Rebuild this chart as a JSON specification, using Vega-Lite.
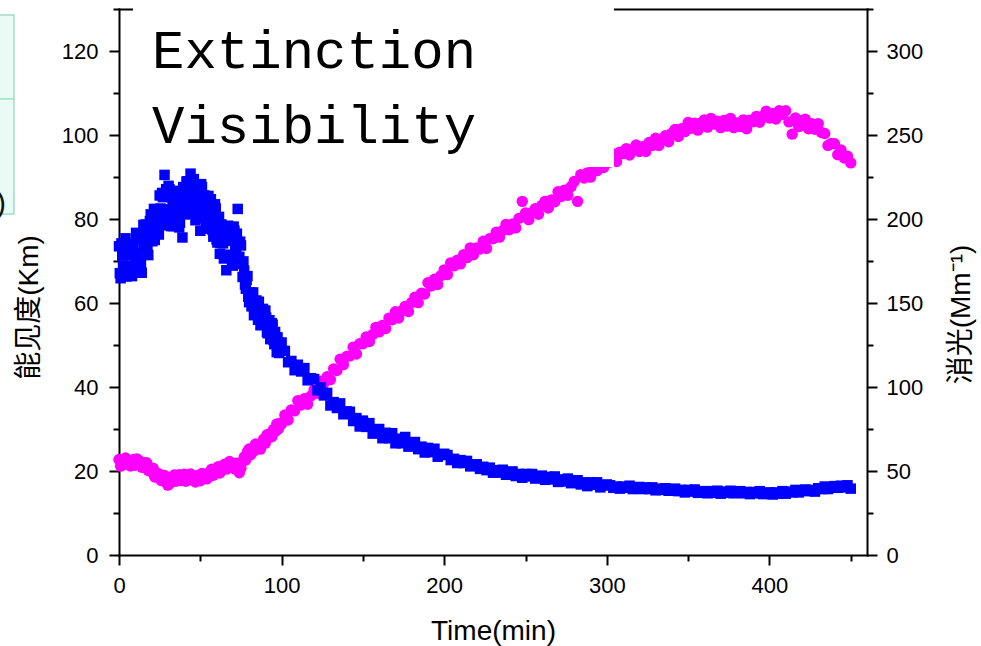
{
"$schema": "https://vega.github.io/schema/vega-lite/v6.json",
"width": 748, "height": 546,
"autosize": {"type": "none"},
"padding": {"left": 119, "top": 9, "right": 114, "bottom": 91},
"background": "white",
"config": {
  "view": {"stroke": null},
  "axis": {"domainColor": "#000", "domainWidth": 2, "domainCap": "square", "tickColor": "#000", "tickWidth": 2, "tickSize": 10,
    "labelFont": "Liberation Sans", "labelFontSize": 22, "labelColor": "#000", "labelFlush": false, "labelOverlap": false,
    "titleFont": "Liberation Sans, Noto Sans CJK SC", "titleFontSize": 28, "titleFontWeight": "normal", "titleColor": "#000", "grid": false}
},
"data": {"values": [
{"t":0,"v":73.5,"e":56.8},{"t":1,"v":65.9,"e":52.9},{"t":2,"v":71.3,"e":55.6},{"t":3,"v":67.9,"e":54.0},{"t":4,"v":75.4,"e":57.7},
{"t":5,"v":67.1,"e":54.7},{"t":6,"v":71.3,"e":56.5},{"t":7,"v":73.7,"e":53.0},{"t":8,"v":66.4,"e":55.6},{"t":9,"v":73.5,"e":56.8},
{"t":10,"v":70.8,"e":53.4},{"t":11,"v":76.2,"e":57.2},{"t":12,"v":69.6,"e":54.5},{"t":13,"v":75.2,"e":55.7},{"t":14,"v":67.2,"e":52.2},
{"t":15,"v":78.6,"e":54.9},{"t":16,"v":72.8,"e":52.0},{"t":17,"v":76.2,"e":54.9},{"t":18,"v":71.4,"e":50.3},{"t":19,"v":79.5,"e":51.8},
{"t":20,"v":75.8,"e":49.6},{"t":21,"v":80.5,"e":51.6},{"t":22,"v":75.0,"e":46.4},{"t":23,"v":80.9,"e":49.0},{"t":24,"v":80.0,"e":47.0},
{"t":25,"v":85.6,"e":48.1},{"t":26,"v":78.5,"e":44.3},{"t":27,"v":85.2,"e":45.8},{"t":28,"v":90.5,"e":47.3},{"t":29,"v":87.1,"e":43.4},
{"t":30,"v":81.8,"e":41.6},{"t":31,"v":87.1,"e":42.3},{"t":32,"v":78.3,"e":46.2},{"t":33,"v":83.2,"e":44.6},{"t":34,"v":85.5,"e":47.6},
{"t":35,"v":79.4,"e":43.9},{"t":36,"v":86.7,"e":46.5},{"t":37,"v":78.0,"e":47.8},{"t":38,"v":83.3,"e":44.3},{"t":39,"v":75.6,"e":47.2},
{"t":40,"v":86.1,"e":48.1},{"t":41,"v":83.6,"e":43.9},{"t":42,"v":89.0,"e":46.5},{"t":43,"v":81.9,"e":44.7},{"t":44,"v":90.8,"e":48.2},
{"t":45,"v":83.2,"e":45.1},{"t":46,"v":89.5,"e":47.0},{"t":47,"v":79.7,"e":43.4},{"t":48,"v":84.6,"e":46.1},{"t":49,"v":86.9,"e":47.5},
{"t":50,"v":77.2,"e":44.2},{"t":51,"v":87.6,"e":48.5},{"t":52,"v":81.8,"e":46.2},{"t":53,"v":84.8,"e":47.9},{"t":54,"v":77.7,"e":45.3},
{"t":55,"v":85.5,"e":48.9},{"t":56,"v":81.0,"e":46.9},{"t":57,"v":82.3,"e":51.0},{"t":58,"v":75.8,"e":47.5},{"t":59,"v":83.5,"e":50.1},
{"t":60,"v":75.1,"e":49.3},{"t":61,"v":77.7,"e":52.6},{"t":62,"v":71.7,"e":48.8},{"t":63,"v":78.7,"e":52.6},{"t":64,"v":74.2,"e":51.7},
{"t":65,"v":77.4,"e":54.0},{"t":66,"v":67.8,"e":51.1},{"t":67,"v":78.4,"e":53.4},{"t":68,"v":71.3,"e":55.7},{"t":69,"v":74.8,"e":52.5},
{"t":70,"v":68.9,"e":54.2},{"t":71,"v":77.2,"e":51.3},{"t":72,"v":72.1,"e":54.7},{"t":73,"v":82.4,"e":52.7},{"t":74,"v":71.0,"e":49.0},
{"t":75,"v":73.7,"e":51.7},{"t":76,"v":66.2,"e":55.6},{"t":77,"v":67.7,"e":58.3},{"t":78,"v":63.4,"e":56.6},{"t":79,"v":66.4,"e":61.5},
{"t":80,"v":60.2,"e":63.1},{"t":81,"v":61.9,"e":59.7},{"t":82,"v":62.4,"e":63.0},{"t":83,"v":57.1,"e":61.9},{"t":84,"v":60.4,"e":66.1},
{"t":85,"v":57.7,"e":63.6},{"t":86,"v":60.3,"e":66.0},{"t":87,"v":54.7,"e":63.0},{"t":88,"v":57.9,"e":66.7},{"t":89,"v":55.7,"e":69.0},
{"t":90,"v":58.2,"e":66.6},{"t":91,"v":53.1,"e":71.6},{"t":92,"v":55.1,"e":70.0},{"t":93,"v":51.4,"e":72.3},{"t":94,"v":55.2,"e":70.4},
{"t":95,"v":51.2,"e":74.7},{"t":96,"v":53.1,"e":73.5},{"t":97,"v":48.3,"e":78.0},{"t":98,"v":50.6,"e":75.0},{"t":99,"v":48.8,"e":78.3},
{"t":100,"v":50.6,"e":78.0},
{"t":0.5,"v":67.1},{"t":1.5,"v":74.2},{"t":2.5,"v":68.9},{"t":3.5,"v":72.5},{"t":4.5,"v":66.3},{"t":5.5,"v":71.6},{"t":6.5,"v":74.2},
{"t":7.5,"v":68.8},{"t":8.5,"v":72.8},{"t":9.5,"v":68.1},{"t":10.5,"v":76.7},{"t":11.5,"v":71.9},{"t":12.5,"v":75.5},{"t":13.5,"v":69.2},
{"t":14.5,"v":75.8},{"t":15.5,"v":73.5},{"t":16.5,"v":78.7},{"t":17.5,"v":72.8},{"t":18.5,"v":76.4},{"t":19.5,"v":81.1},{"t":20.5,"v":74.7},
{"t":21.5,"v":82.4},{"t":22.5,"v":77.7},{"t":23.5,"v":81.9},{"t":24.5,"v":76.3},{"t":25.5,"v":82.5},{"t":26.5,"v":86.2},{"t":27.5,"v":82.0},
{"t":28.5,"v":86.0},{"t":29.5,"v":80.2},{"t":30.5,"v":87.9},{"t":31.5,"v":82.3},{"t":32.5,"v":85.2},{"t":33.5,"v":78.3},{"t":34.5,"v":84.0},
{"t":35.5,"v":80.9},{"t":36.5,"v":85.2},{"t":37.5,"v":79.1},{"t":38.5,"v":82.8},{"t":39.5,"v":87.6},{"t":40.5,"v":81.1},{"t":41.5,"v":88.9},
{"t":42.5,"v":84.1},{"t":43.5,"v":87.9},{"t":44.5,"v":81.2},{"t":45.5,"v":86.0},{"t":46.5,"v":88.1},{"t":47.5,"v":82.1},{"t":48.5,"v":85.5},
{"t":49.5,"v":80.2},{"t":50.5,"v":88.3},{"t":51.5,"v":82.8},{"t":52.5,"v":85.6},{"t":53.5,"v":78.4},{"t":54.5,"v":84.0},{"t":55.5,"v":80.7},
{"t":56.5,"v":84.7},{"t":57.5,"v":77.4},{"t":58.5,"v":79.4},{"t":59.5,"v":82.5},{"t":60.5,"v":74.4},{"t":61.5,"v":80.5},{"t":62.5,"v":74.3},
{"t":63.5,"v":77.4},{"t":64.5,"v":70.6},{"t":65.5,"v":75.5},{"t":66.5,"v":77.5},{"t":67.5,"v":71.5},{"t":68.5,"v":75.0},{"t":69.5,"v":69.9},
{"t":70.5,"v":78.2},{"t":71.5,"v":73.2},{"t":72.5,"v":76.5},{"t":73.5,"v":69.9},{"t":74.5,"v":74.6},{"t":75.5,"v":69.3},{"t":76.5,"v":69.9},
{"t":77.5,"v":64.4},{"t":78.5,"v":65.5},{"t":79.5,"v":61.5},{"t":80.5,"v":62.5},{"t":81.5,"v":59.2},{"t":82.5,"v":62.5},{"t":83.5,"v":58.8},
{"t":84.5,"v":60.6},{"t":85.5,"v":56.0},{"t":86.5,"v":58.3},{"t":87.5,"v":55.4},{"t":88.5,"v":58.6},{"t":89.5,"v":55.3},{"t":90.5,"v":56.5},
{"t":91.5,"v":52.8},{"t":92.5,"v":55.9},{"t":93.5,"v":52.5},{"t":94.5,"v":54.8},{"t":95.5,"v":50.2},{"t":96.5,"v":51.8},{"t":97.5,"v":51.8},
{"t":98.5,"v":48.1},{"t":99.5,"v":49.7},
{"t":102,"v":48.6,"e":83.3},{"t":104,"v":45.9,"e":80.4},{"t":106,"v":46.2,"e":86.4},{"t":108,"v":44.0,"e":85.8},{"t":110,"v":45.3,"e":91.9},
{"t":112,"v":43.7,"e":89.3},{"t":114,"v":44.5,"e":93.0},{"t":116,"v":41.6,"e":89.7},{"t":118,"v":42.1,"e":94.6},{"t":120,"v":41.9,"e":98.4},
{"t":122,"v":39.2,"e":96.2},{"t":124,"v":39.9,"e":103.5},{"t":126,"v":38.0,"e":102.3},{"t":128,"v":38.6,"e":106.1},{"t":130,"v":35.6,"e":104.4},
{"t":132,"v":36.4,"e":110.8},{"t":134,"v":35.0,"e":109.8},{"t":136,"v":36.1,"e":116.5},{"t":138,"v":33.5,"e":113.3},{"t":140,"v":34.2,"e":118.2},
{"t":142,"v":34.1,"e":118.5},{"t":144,"v":31.9,"e":123.7},{"t":146,"v":32.6,"e":119.6},{"t":148,"v":30.6,"e":125.7},{"t":150,"v":32.0,"e":125.7},
{"t":152,"v":30.5,"e":129.8},{"t":154,"v":31.4,"e":127.1},{"t":156,"v":28.9,"e":131.3},{"t":158,"v":29.7,"e":135.5},{"t":160,"v":30.0,"e":132.8},
{"t":162,"v":27.8,"e":136.7},{"t":164,"v":29.1,"e":134.8},{"t":166,"v":27.8,"e":141.0},{"t":168,"v":29.0,"e":140.0},{"t":170,"v":26.6,"e":144.8},
{"t":172,"v":27.7,"e":141.1},{"t":174,"v":26.6,"e":145.4},{"t":176,"v":28.1,"e":148.0},{"t":178,"v":25.8,"e":144.9},{"t":180,"v":26.8,"e":150.3},
{"t":182,"v":26.9,"e":153.5},{"t":184,"v":25.2,"e":150.2},{"t":186,"v":25.8,"e":155.8},{"t":188,"v":24.4,"e":155.4},{"t":190,"v":25.5,"e":162.1},
{"t":192,"v":24.5,"e":160.1},{"t":194,"v":25.3,"e":164.1},{"t":196,"v":23.4,"e":161.0},{"t":198,"v":23.9,"e":166.3},{"t":200,"v":24.1,"e":169.7},
{"t":202,"v":23.8,"e":167.0},{"t":204,"v":22.6,"e":173.9},{"t":206,"v":22.9,"e":172.1},{"t":208,"v":21.9,"e":175.5},{"t":210,"v":22.6,"e":173.3},
{"t":212,"v":21.9,"e":178.8},{"t":214,"v":22.4,"e":177.0},{"t":216,"v":21.1,"e":182.8},{"t":218,"v":21.5,"e":178.7},{"t":220,"v":21.6,"e":182.7},
{"t":222,"v":20.5,"e":182.1},{"t":224,"v":21.0,"e":186.8},{"t":226,"v":20.2,"e":182.5},{"t":228,"v":20.8,"e":188.3},{"t":230,"v":19.6,"e":188.2},
{"t":232,"v":20.2,"e":192.1},{"t":234,"v":19.6,"e":189.2},{"t":236,"v":20.3,"e":193.1},{"t":238,"v":19.1,"e":196.8},{"t":240,"v":19.7,"e":193.6},
{"t":242,"v":19.9,"e":197.1},{"t":244,"v":18.8,"e":194.7},{"t":246,"v":19.3,"e":200.4},{"t":248,"v":18.4,"e":210.5},{"t":250,"v":19.3,"e":203.6},
{"t":252,"v":18.7,"e":199.6},{"t":254,"v":19.3,"e":203.7},{"t":256,"v":18.2,"e":206.2},{"t":258,"v":18.7,"e":202.8},{"t":260,"v":18.9,"e":208.0},
{"t":262,"v":17.9,"e":210.5},{"t":264,"v":18.6,"e":206.5},{"t":266,"v":18.0,"e":211.4},{"t":268,"v":18.7,"e":210.3},{"t":270,"v":17.4,"e":216.2},
{"t":272,"v":18.0,"e":213.4},{"t":274,"v":17.5,"e":217.2},{"t":276,"v":18.2,"e":214.1},{"t":278,"v":17.1,"e":219.2},{"t":280,"v":17.7,"e":222.4},
{"t":282,"v":17.8,"e":210.5},{"t":284,"v":16.8,"e":226.4},{"t":286,"v":17.3,"e":224.4},{"t":288,"v":16.4,"e":227.4},{"t":290,"v":17.3,"e":224.9},
{"t":292,"v":16.7,"e":230.5},{"t":294,"v":17.3,"e":228.8},{"t":296,"v":16.1,"e":234.7},{"t":298,"v":16.6,"e":230.6},{"t":300,"v":16.8,"e":234.5},
{"t":302,"v":16.6,"e":233.9},{"t":304,"v":16.0,"e":238.7},{"t":306,"v":16.3,"e":234.2},{"t":308,"v":15.8,"e":239.7},{"t":310,"v":16.3,"e":238.9},
{"t":312,"v":16.0,"e":241.9},{"t":314,"v":16.5,"e":238.1},{"t":316,"v":15.7,"e":241.1},{"t":318,"v":16.0,"e":244.1},{"t":320,"v":16.2,"e":240.2},
{"t":322,"v":15.7,"e":243.0},{"t":324,"v":16.1,"e":240.2},{"t":326,"v":15.7,"e":245.5},{"t":328,"v":16.1,"e":243.8},{"t":330,"v":15.4,"e":248.1},
{"t":332,"v":15.8,"e":243.7},{"t":334,"v":15.5,"e":247.4},{"t":336,"v":15.9,"e":249.6},{"t":338,"v":15.3,"e":246.0},{"t":340,"v":15.6,"e":251.0},
{"t":342,"v":15.8,"e":253.3},{"t":344,"v":15.2,"e":249.1},{"t":346,"v":15.5,"e":253.7},{"t":348,"v":14.9,"e":252.0},{"t":350,"v":15.5,"e":257.4},
{"t":352,"v":15.1,"e":254.0},{"t":354,"v":15.6,"e":257.0},{"t":356,"v":14.8,"e":252.9},{"t":358,"v":15.0,"e":257.2},{"t":360,"v":15.2,"e":259.0},
{"t":362,"v":14.7,"e":254.7},{"t":364,"v":15.2,"e":259.9},{"t":366,"v":14.8,"e":256.5},{"t":368,"v":15.3,"e":258.2},{"t":370,"v":14.6,"e":254.4},
{"t":372,"v":15.1,"e":258.6},{"t":374,"v":14.8,"e":255.4},{"t":376,"v":15.3,"e":259.9},{"t":378,"v":14.7,"e":254.4},{"t":380,"v":15.0,"e":257.1},
{"t":382,"v":15.2,"e":255.1},{"t":384,"v":14.7,"e":259.0},{"t":386,"v":15.0,"e":253.7},{"t":388,"v":14.5,"e":258.8},{"t":390,"v":15.0,"e":257.9},
{"t":392,"v":14.7,"e":261.1},{"t":394,"v":15.2,"e":257.6},{"t":396,"v":14.5,"e":261.2},{"t":398,"v":14.8,"e":264.1},{"t":400,"v":14.9,"e":260.1},
{"t":402,"v":14.4,"e":262.7},{"t":404,"v":14.9,"e":259.5},{"t":406,"v":14.6,"e":264.4},{"t":408,"v":15.2,"e":262.3},{"t":410,"v":14.6,"e":264.4},
{"t":412,"v":15.1,"e":257.8},{"t":414,"v":14.9,"e":250.5},{"t":416,"v":15.5,"e":260.1},{"t":418,"v":14.9,"e":255.0},{"t":420,"v":15.4,"e":258.6},
{"t":422,"v":15.6,"e":259.4},{"t":424,"v":15.2,"e":253.7},{"t":426,"v":15.5,"e":256.8},{"t":428,"v":15.1,"e":253.4},{"t":430,"v":15.9,"e":256.8},
{"t":432,"v":15.7,"e":251.5},{"t":434,"v":16.3,"e":250.9},{"t":436,"v":15.7,"e":243.8},{"t":438,"v":16.1,"e":244.9},{"t":440,"v":16.4,"e":244.8},
{"t":442,"v":16.0,"e":238.2},{"t":444,"v":16.5,"e":241.1},{"t":446,"v":16.1,"e":236.3},{"t":448,"v":16.6,"e":237.4},{"t":450,"v":15.8,"e":233.4}
]},
"resolve": {"scale": {"x": "independent", "y": "independent"}, "axis": {"x": "independent", "y": "independent"}},
"layer": [
  {"mark": {"type": "circle", "size": 130, "color": "#ff00ff", "opacity": 1},
   "encoding": {
     "x": {"field": "t", "type": "quantitative", "scale": {"domain": [0, 460], "nice": false, "zero": false},
           "axis": {"orient": "bottom", "values": [0, 100, 200, 300, 400], "title": "Time(min)", "labelPadding": 10, "titlePadding": 21}},
     "y": {"field": "e", "type": "quantitative", "scale": {"domain": [0, 325], "nice": false},
           "axis": {"orient": "right", "values": [0, 50, 100, 150, 200, 250, 300], "title": "消光(Mm⁻¹)", "labelPadding": 9, "titlePadding": 25, "titleAngle": 270, "titleBaseline": "top", "titleY": 305}}}},
  {"mark": {"type": "square", "size": 110, "color": "#0000ff", "opacity": 1},
   "encoding": {
     "x": {"field": "t", "type": "quantitative", "scale": {"domain": [0, 460], "nice": false, "zero": false},
           "axis": {"orient": "bottom", "values": [50, 150, 250, 350, 450], "labels": false, "domain": false, "tickSize": 6, "title": null}},
     "y": {"field": "v", "type": "quantitative", "scale": {"domain": [0, 130], "nice": false},
           "axis": {"orient": "left", "values": [0, 20, 40, 60, 80, 100, 120], "title": "能见度(Km)", "labelPadding": 11, "titlePadding": 18, "titleY": 298}}}},
  {"data": {"values": [{}]},
   "mark": {"type": "point", "opacity": 0},
   "encoding": {
     "x": {"datum": 0, "type": "quantitative", "scale": {"domain": [0, 460], "nice": false, "zero": false},
           "axis": {"orient": "top", "ticks": false, "labels": false, "domain": true, "title": null}},
     "y": {"datum": 0, "type": "quantitative", "scale": {"domain": [0, 130], "nice": false},
           "axis": {"orient": "left", "values": [10, 30, 50, 70, 90, 110, 130], "labels": false, "domain": false, "tickSize": 6, "title": null}}}},
  {"data": {"values": [{}]},
   "mark": {"type": "point", "opacity": 0},
   "encoding": {
     "x": {"datum": 0, "type": "quantitative", "scale": {"domain": [0, 460], "nice": false, "zero": false}, "axis": null},
     "y": {"datum": 0, "type": "quantitative", "scale": {"domain": [0, 325], "nice": false},
           "axis": {"orient": "right", "values": [25, 75, 125, 175, 225, 275, 325], "labels": false, "domain": false, "tickSize": 6, "title": null}}}},
  {"data": {"values": [{}]},
   "mark": {"type": "rect", "color": "#ffffff", "opacity": 1},
   "encoding": {
     "x": {"datum": 8.6, "type": "quantitative", "scale": {"domain": [0, 460], "nice": false, "zero": false}, "axis": null},
     "x2": {"datum": 304.4},
     "y": {"datum": 132.4, "type": "quantitative", "scale": {"domain": [0, 130], "nice": false}, "axis": null},
     "y2": {"datum": 92.4}}},
  {"data": {"values": [{}]},
   "mark": {"type": "text", "text": ["Extinction", "Visibility"], "font": "Liberation Mono", "fontSize": 54, "lineHeight": 75, "align": "left", "baseline": "alphabetic", "color": "#000000"},
   "encoding": {
     "x": {"datum": 20.3, "type": "quantitative", "scale": {"domain": [0, 460], "nice": false, "zero": false}, "axis": null},
     "y": {"datum": 115.9, "type": "quantitative", "scale": {"domain": [0, 130], "nice": false}, "axis": null}}},
  {"data": {"values": [{}]},
   "mark": {"type": "rect", "fill": "#e9fbf5", "stroke": "#a3dcc6", "strokeWidth": 1.5},
   "encoding": {
     "x": {"datum": -79.3, "type": "quantitative", "scale": {"domain": [0, 460], "nice": false, "zero": false}, "axis": null},
     "x2": {"datum": -64.6},
     "y": {"datum": 128.6, "type": "quantitative", "scale": {"domain": [0, 130], "nice": false}, "axis": null},
     "y2": {"datum": 81.2}}},
  {"data": {"values": [{}]},
   "mark": {"type": "rule", "color": "#a3dcc6", "strokeWidth": 1.5},
   "encoding": {
     "x": {"datum": -79.3, "type": "quantitative", "scale": {"domain": [0, 460], "nice": false, "zero": false}, "axis": null},
     "x2": {"datum": -64.6},
     "y": {"datum": 108.6, "type": "quantitative", "scale": {"domain": [0, 130], "nice": false}, "axis": null}}},
  {"data": {"values": [{}]},
   "mark": {"type": "text", "text": ")", "font": "Liberation Sans", "fontSize": 30, "align": "center", "baseline": "middle", "color": "#111111"},
   "encoding": {
     "x": {"datum": -72.6, "type": "quantitative", "scale": {"domain": [0, 460], "nice": false, "zero": false}, "axis": null},
     "y": {"datum": 83.6, "type": "quantitative", "scale": {"domain": [0, 130], "nice": false}, "axis": null}}}
]
}
